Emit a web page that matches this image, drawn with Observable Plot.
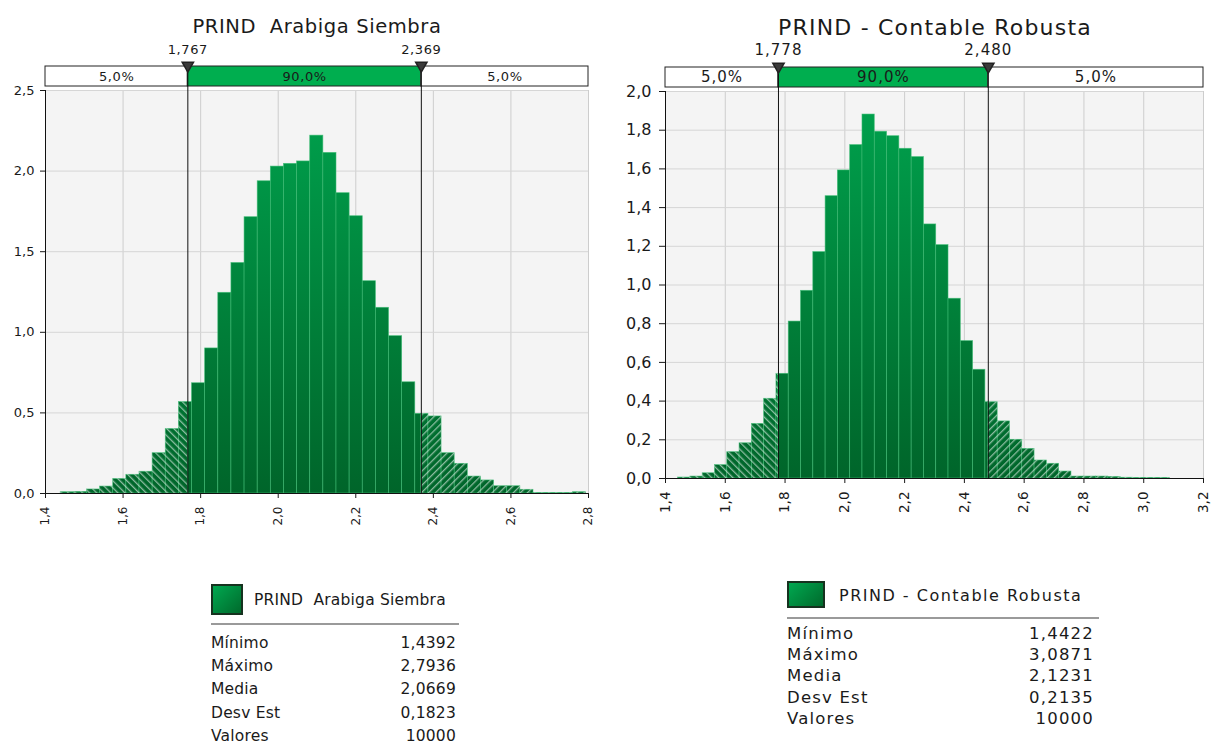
<!DOCTYPE html>
<html><head><meta charset="utf-8">
<script src="https://cdn.jsdelivr.net/npm/d3@7"></script>
<script src="https://cdn.jsdelivr.net/npm/@observablehq/plot@0.6"></script>
<style>
body{margin:0;background:#fff;}
#root{position:relative;width:1214px;height:745px;overflow:hidden;font-family:"DejaVu Sans",sans-serif;color:#1a1a1a;}
.title{position:absolute;white-space:pre;transform:translate(-50%,-50%);}
.sw{position:absolute;box-sizing:border-box;border:2px solid #16321f;background:linear-gradient(135deg,#00a850,#006a2c);}
.lt{position:absolute;white-space:pre;transform:translateY(-50%);}
.hr{position:absolute;height:0;border-top:2px solid #9a9a9a;}
.row{position:absolute;white-space:nowrap;transform:translateY(-50%);display:flex;justify-content:space-between;}
</style></head><body><div id="root"></div>
<script>
// ---------- data ----------
const titleA = "PRIND  Arabiga Siembra";
const minA = 1.4392, maxA = 2.7936;
const densA = [0.008,0.010,0.025,0.043,0.090,0.116,0.135,0.250,0.400,0.567,
               0.684,0.900,1.245,1.430,1.714,1.937,2.028,2.045,2.060,2.220,
               2.113,1.863,1.720,1.317,1.152,0.976,0.690,0.494,0.478,0.250,
               0.184,0.105,0.081,0.045,0.045,0.023,0.003,0.003,0.003,0.008];
const q5A = 1.767, q95A = 2.369;
const xTicksA = [1.4,1.6,1.8,2.0,2.2,2.4,2.6,2.8];
const yTicksA = [0,0.5,1.0,1.5,2.0,2.5];
const statsA = ["1,4392","2,7936","2,0669","0,1823","10000"];

const titleB = "PRIND - Contable Robusta";
const minB = 1.4422, maxB = 3.0871;
const densB = [0.005,0.010,0.027,0.069,0.136,0.182,0.282,0.412,0.541,0.811,
               0.970,1.170,1.459,1.592,1.723,1.881,1.792,1.769,1.704,1.661,
               1.313,1.206,0.929,0.710,0.562,0.394,0.295,0.200,0.153,0.093,
               0.076,0.036,0.010,0.010,0.010,0.008,0.004,0.003,0.003,0.003];
const q5B = 1.778, q95B = 2.480;
const xTicksB = [1.4,1.6,1.8,2.0,2.2,2.4,2.6,2.8,3.0,3.2];
const yTicksB = [0,0.2,0.4,0.6,0.8,1.0,1.2,1.4,1.6,1.8,2.0];
const statsB = ["1,4422","3,0871","2,1231","0,2135","10000"];

const bandLabels = ["5,0%","90,0%","5,0%"];
const statLabels = ["Mínimo","Máximo","Media","Desv Est","Valores"];

// ---------- helpers ----------
const root = document.getElementById("root");
const f1 = d => d.toFixed(1).replace(".", ",");
const f3 = d => d.toFixed(3).replace(".", ",");

function segments(min, max, dens, q1, q2){
  const w = (max - min) / dens.length, out = [];
  dens.forEach((d, i) => {
    const x1 = min + i * w, x2 = x1 + w;
    if (x1 < q1) out.push({x1, x2: Math.min(x2, q1), y: d, part: "L"});
    const a = Math.max(x1, q1), b = Math.min(x2, q2);
    if (a < b) out.push({x1: a, x2: b, y: d, part: "M"});
    if (x2 > q2) out.push({x1: Math.max(x1, q2), x2, y: d, part: "R"});
  });
  return out;
}

function addDefs(svg, id, y0, y1){
  const defs = d3.select(svg).insert("defs", ":first-child");
  const g = defs.append("linearGradient").attr("id", "g" + id)
    .attr("gradientUnits", "userSpaceOnUse").attr("x1", 0).attr("x2", 0).attr("y1", y0).attr("y2", y1);
  g.append("stop").attr("offset", "0").attr("stop-color", "#00a34e");
  g.append("stop").attr("offset", "1").attr("stop-color", "#00652a");
  [["hL", -45], ["hR", 45]].forEach(([n, r]) => {
    const p = defs.append("pattern").attr("id", n + id).attr("patternUnits", "userSpaceOnUse")
      .attr("width", 5).attr("height", 10).attr("patternTransform", `rotate(${r})`);
    p.append("rect").attr("x", 0).attr("y", 0).attr("width", 1.3).attr("height", 10)
      .attr("fill", "#ffffff").attr("fill-opacity", 0.55);
  });
}

function chart(o){
  const style = {fontFamily: "DejaVu Sans", fontSize: "12px", color: "#1a1a1a", background: "transparent", overflow: "visible"};
  // band
  const cuts = [o.xDomain[0], o.q1, o.q2, o.xDomain[1]];
  const band = bandLabels.map((l, i) => ({x1: cuts[i], x2: cuts[i + 1], label: l, fill: i === 1 ? "#00ae4f" : "#ffffff"}));
  const bandSvg = Plot.plot({
    width: o.width, height: o.bandH, marginTop: o.bandMT, marginBottom: 2,
    marginLeft: o.ml, marginRight: o.mr,
    x: {domain: o.xDomain, axis: null}, y: {domain: [0, 1], axis: null},
    style: {...style, letterSpacing: o.bls + "px"},
    marks: [
      Plot.rect(band, {x1: "x1", x2: "x2", y1: d => 0, y2: d => 1, fill: "fill", stroke: "#222", strokeWidth: 1}),
      Plot.text(band, {x: d => (d.x1 + d.x2) / 2, y: d => 0.5, text: "label", fontSize: o.bfs, fill: "#1a1a1a"}),
      Plot.ruleX([o.q1, o.q2], {x: d => d, y1: d => 0, y2: d => 1, stroke: "#111", insetBottom: -3}),
      Plot.dot([o.q1, o.q2], {x: d => d, y: d => 1, symbol: "triangle", rotate: 180, r: 4.2, fill: "#3a3a3a", stroke: "#222", dy: -1}),
      Plot.text([o.q1, o.q2], {x: d => d, y: d => 1, text: f3, dy: -17, fontSize: o.qfs, fill: "#1a1a1a"})
    ]
  });
  bandSvg.style.position = "absolute"; bandSvg.style.left = o.left + "px"; bandSvg.style.top = o.bandTop + "px";
  root.appendChild(bandSvg);

  const segs = segments(o.min, o.max, o.dens, o.q1, o.q2);
  const svg = Plot.plot({
    width: o.width, height: o.h, marginTop: o.mt, marginBottom: o.mb,
    marginLeft: o.ml, marginRight: o.mr,
    x: {domain: o.xDomain}, y: {domain: o.yDomain},
    style,
    marks: [
      Plot.frame({fill: "#f4f4f4", stroke: "none"}),
      Plot.gridX(o.xTicks, {stroke: "#cdcdcd", strokeOpacity: 1}),
      Plot.gridY(o.yTicks, {stroke: "#d6d6d6", strokeOpacity: 1}),
      Plot.rect(segs, {x1: "x1", x2: "x2", y1: d => 0, y2: "y", fill: `url(#g${o.id})`, stroke: "#3fbd74", strokeWidth: 0.7, strokeOpacity: 0.8}),
      Plot.rect(segs.filter(d => d.part === "L"), {x1: "x1", x2: "x2", y1: d => 0, y2: "y", fill: `url(#hL${o.id})`}),
      Plot.rect(segs.filter(d => d.part === "R"), {x1: "x1", x2: "x2", y1: d => 0, y2: "y", fill: `url(#hR${o.id})`}),
      Plot.ruleX([o.q1, o.q2], {stroke: "#111", strokeWidth: 1, insetTop: -o.mt}),
      Plot.ruleY([0], {stroke: "#111"}),
      Plot.ruleX([o.xDomain[0]], {stroke: "#111"}),
      Plot.axisX({ticks: o.xTicks, tickFormat: f1, tickRotate: -90, tickSize: 5, tickPadding: o.xpad, fontSize: o.xfs, label: null, color: "#1a1a1a"}),
      Plot.axisY({ticks: o.yTicks, tickFormat: f1, tickSize: o.yts, tickPadding: o.ypad, fontSize: o.yfs, label: null, color: "#1a1a1a"})
    ]
  });
  addDefs(svg, o.id, o.mt, o.h - o.mb);
  svg.style.position = "absolute"; svg.style.left = o.left + "px"; svg.style.top = o.mainTop + "px";
  root.appendChild(svg);
}

chart({id: "A", left: 0, width: 600, ml: 45, mr: 12, bandTop: 34, bandH: 54, bandMT: 32,
  mainTop: 86, h: 454, mt: 4, mb: 47, xDomain: [1.4, 2.8], yDomain: [0, 2.5],
  xTicks: xTicksA, yTicks: yTicksA, min: minA, max: maxA, dens: densA, q1: q5A, q2: q95A,
  bls: 0.6, bfs: 13, qfs: 13, xfs: 12, yfs: 13, xpad: 8, yts: 5, ypad: 6});
chart({id: "B", left: 610, width: 604, ml: 55, mr: 11, bandTop: 35, bandH: 54, bandMT: 32,
  mainTop: 87, h: 436, mt: 4, mb: 45, xDomain: [1.4, 3.2], yDomain: [0, 2.0],
  xTicks: xTicksB, yTicks: yTicksB, min: minB, max: maxB, dens: densB, q1: q5B, q2: q95B,
  bls: 1, bfs: 15, qfs: 15, xfs: 13.5, yfs: 16, xpad: 8, yts: 6, ypad: 8});

// ---------- titles & stats ----------
function el(cls, css, text){
  const d = document.createElement("div"); d.className = cls;
  Object.assign(d.style, css); if (text != null) d.textContent = text; root.appendChild(d); return d;
}
el("title", {left: "317px", top: "26px", fontSize: "19.5px", letterSpacing: "0.6px"}, titleA);
el("title", {left: "935px", top: "27px", fontSize: "22px", letterSpacing: "1.2px"}, titleB);

function stats(o, name, vals){
  el("sw", {left: o.sx + "px", top: o.sy + "px", width: o.sw + "px", height: o.sh + "px"});
  el("lt", {left: o.tx + "px", top: o.ty + "px", fontSize: o.fsT + "px", letterSpacing: o.lsT + "px"}, name);
  el("hr", {left: o.sx + "px", top: o.hy + "px", width: (o.hx2 - o.sx) + "px"});
  statLabels.forEach((l, i) => {
    const r = el("row", {left: o.sx + "px", top: (o.r0 + i * o.dr) + "px", width: (o.vx - o.sx) + "px", fontSize: o.fs + "px", letterSpacing: o.ls + "px"});
    const a = document.createElement("span"); a.textContent = l;
    const b = document.createElement("span"); b.textContent = vals[i];
    r.appendChild(a); r.appendChild(b);
  });
}
stats({sx: 211, sy: 584, sw: 32, sh: 31, tx: 254, ty: 600, hy: 623, hx2: 459, r0: 643, dr: 23.2, vx: 456, fs: 15.5, fsT: 15.5, ls: 0.2, lsT: 0.2}, titleA, statsA);
stats({sx: 787, sy: 581, sw: 38, sh: 27, tx: 839, ty: 595, hy: 617, hx2: 1099, r0: 633, dr: 21.2, vx: 1094, fs: 16.5, fsT: 16, ls: 1.2, lsT: 1.5}, titleB, statsB);
</script></body></html>
